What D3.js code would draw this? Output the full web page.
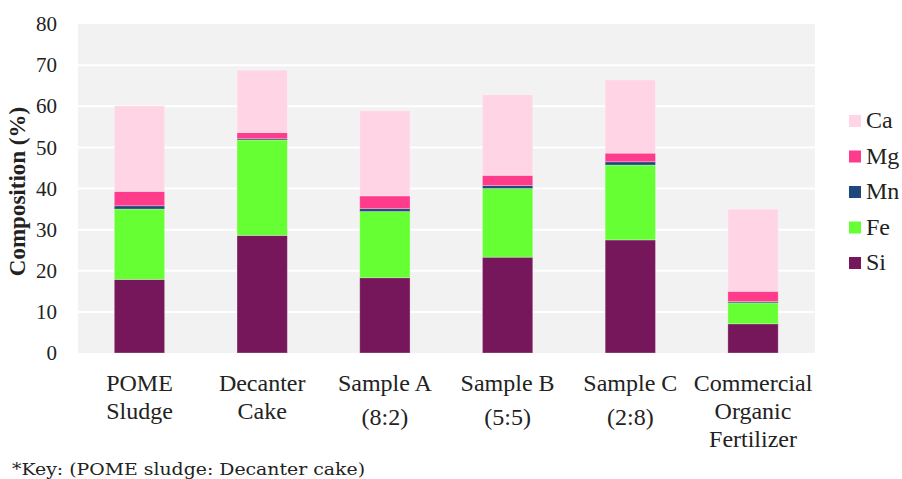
<!DOCTYPE html>
<html><head><meta charset="utf-8">
<script src="https://cdn.jsdelivr.net/npm/d3@7"></script>
<style>
body{margin:0;background:#fff;} svg{display:block;}
.serif{font-family:"Liberation Serif","Times New Roman",Times,serif;}
.foot{font-family:"DejaVu Serif",serif;}
</style>
</head><body>
<svg id="chart" width="902" height="479"></svg>
<script>
const categories = ["POME Sludge", "Decanter Cake", "Sample A (8:2)", "Sample B (5:5)", "Sample C (2:8)", "Commercial Organic Fertilizer"];
const categoryLines = [["POME", "Sludge"], ["Decanter", "Cake"], ["Sample A", "", "(8:2)"], ["Sample B", "", "(5:5)"], ["Sample C", "", "(2:8)"], ["Commercial", "Organic", "Fertilizer"]];
const seriesNames = ["Si", "Fe", "Mn", "Mg", "Ca"];
const Si = [17.9, 28.6, 18.3, 23.3, 27.5, 7.1];
const Fe = [17.1, 23.2, 16.1, 16.7, 18.2, 5.1];
const Mn = [0.8, 0.3, 0.7, 0.7, 0.8, 0.3];
const Mg = [3.5, 1.5, 3.1, 2.5, 2.1, 2.5];
const Ca = [20.8, 15.2, 20.7, 19.6, 17.8, 20.0];
const yTicks = [0, 10, 20, 30, 40, 50, 60, 70, 80];
const colors = {Si: "#77175B", Fe: "#66FF33", Mn: "#1F497D", Mg: "#FF3B8B", Ca: "#FFD5E5"};
const legendOrder = ["Ca", "Mg", "Mn", "Fe", "Si"];
const footnote = "*Key: (POME sludge: Decanter cake)";

const seriesData = {Si, Fe, Mn, Mg, Ca};
const table = categories.map((c, i) => {
  const row = {cat: c};
  seriesNames.forEach(s => row[s] = seriesData[s][i]);
  return row;
});

const svg = d3.select("#chart");
const m = {left: 78, right: 87, top: 24, bottom: 126};
const W = 902, H = 479;
const x = d3.scaleBand().domain(categories).range([m.left - 0.5, W - m.right]).paddingInner(0.59).paddingOuter(0.3);
const y = d3.scaleLinear().domain([0, 80]).range([H - m.bottom, m.top]);

svg.append("rect").attr("x", m.left).attr("y", m.top)
  .attr("width", W - m.right - m.left).attr("height", y(0) - m.top)
  .attr("fill", "#F2F2F2");

svg.append("g").selectAll("line").data(yTicks.filter(t => t > 0 && t < 80)).join("line")
  .attr("x1", m.left).attr("x2", W - m.right)
  .attr("y1", d => y(d)).attr("y2", d => y(d))
  .attr("stroke", "#ffffff").attr("stroke-width", 2);

const yAxis = svg.append("g").attr("transform", `translate(${m.left},0)`)
  .call(d3.axisLeft(y).tickValues(yTicks).tickSize(0).tickPadding(21));
yAxis.select(".domain").remove();
yAxis.attr("font-family", null).attr("font-size", null);
yAxis.selectAll("text").attr("class", "serif").style("font-size", "21px").attr("fill", "#222");

const stack = d3.stack().keys(seriesNames)(table);
svg.append("g").selectAll("g").data(stack).join("g")
  .attr("fill", d => colors[d.key])
  .selectAll("rect").data(d => d).join("rect")
  .attr("x", d => x(d.data.cat))
  .attr("width", x.bandwidth())
  .attr("y", d => y(d[1]))
  .attr("height", d => y(d[0]) - y(d[1]))
  .attr("stroke", "rgba(255,255,255,0.35)").attr("stroke-width", 0.8);

const xl = svg.append("g");
categories.forEach((c, i) => {
  const cx = x(c) + x.bandwidth() / 2;
  const t = xl.append("text").attr("text-anchor", "middle").attr("class", "serif")
    .style("font-size", "24px").attr("fill", "#222");
  const lines = categoryLines[i];
  lines.forEach((ln, j) => {
    if (ln === "") return;
    const yy = lines.length === 3 && lines[1] === "" && j === 2 ? 425 : 391 + j * 28;
    t.append("tspan").attr("x", cx).attr("y", yy).text(ln);
  });
});

svg.append("text").attr("transform", `translate(25,${(y(0) + y(80)) / 2 + 3}) rotate(-90)`)
  .attr("text-anchor", "middle").attr("class", "serif")
  .style("font-weight", "bold").style("font-size", "23px").attr("fill", "#222")
  .text("Composition (%)");

const lg = svg.append("g");
legendOrder.forEach((k, i) => {
  const yy = 121 + i * 35.5;
  lg.append("rect").attr("x", 849).attr("y", yy - 6).attr("width", 12).attr("height", 12).attr("fill", colors[k]);
  lg.append("text").attr("x", 866).attr("y", yy + 7).attr("class", "serif")
    .style("font-size", "24px").attr("fill", "#222").text(k);
});

svg.append("text").attr("x", 12).attr("y", 475).attr("class", "foot")
  .style("font-size", "17px").attr("fill", "#222")
  .attr("textLength", 353).attr("lengthAdjust", "spacingAndGlyphs").text(footnote);
</script>
</body></html>
